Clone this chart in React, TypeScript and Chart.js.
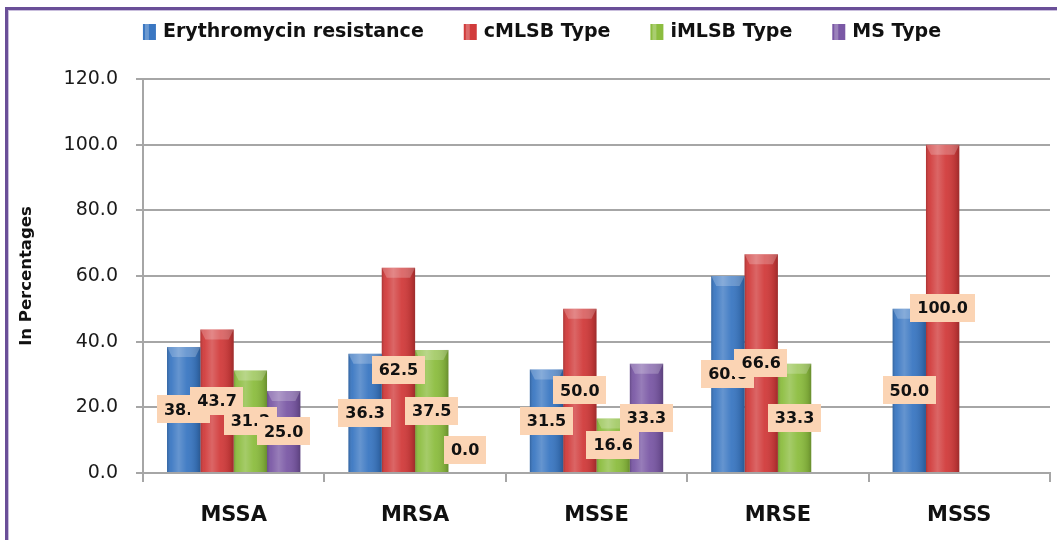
import React, { useEffect, useRef } from "react";
import { Chart, registerables } from "chart.js";

Chart.register(...registerables);

const categories = ["MSSA", "MRSA", "MSSE", "MRSE", "MSSS"];
const seriesNames = ["Erythromycin resistance", "cMLSB Type", "iMLSB Type", "MS Type"];
const erythromycin = [38.4, 36.3, 31.5, 60.0, 50.0];
const cMLSB = [43.7, 62.5, 50.0, 66.6, 100.0];
const iMLSB = [31.2, 37.5, 16.6, 33.3, null];
const msType = [25.0, 0.0, 33.3, null, null];
const seriesColors = ["#3A77C2", "#D13B3B", "#8CBD3F", "#7A58A5"];
const yMin = 0;
const yMax = 120;
const yStep = 20;
const yTitle = "In Percentages";

const FONT = '"DejaVu Sans"';

const borderPlugin = {
  id: "outerBorder",
  beforeDraw(chart: any) {
    const ctx = chart.ctx;
    ctx.save();
    ctx.fillStyle = "#ffffff";
    ctx.fillRect(0, 0, chart.width, chart.height);
    ctx.fillStyle = "#6A4F98";
    ctx.fillRect(5, 7, chart.width - 5, 3);
    ctx.fillRect(5, 7, 3, chart.height - 7);
    ctx.fillStyle = "#C9BEDD";
    ctx.fillRect(8, 10, chart.width - 8, 1);
    ctx.fillRect(8, 10, 1, chart.height - 10);
    ctx.restore();
  },
};

const glossPlugin = {
  id: "barGloss",
  afterDatasetsDraw(chart: any) {
    const ctx = chart.ctx;
    ctx.save();
    chart.data.datasets.forEach((ds: any, di: number) => {
      const meta = chart.getDatasetMeta(di);
      meta.data.forEach((el: any, i: number) => {
        const v = ds.data[i];
        if (v === null || v === undefined) return;
        const { x, y, base, width } = el.getProps(["x", "y", "base", "width"], true);
        const h = base - y;
        if (h < 1) return;
        const left = x - width / 2;
        const g = ctx.createLinearGradient(left, 0, left + width, 0);
        g.addColorStop(0, "rgba(0,0,0,0.18)");
        g.addColorStop(0.12, "rgba(255,255,255,0.05)");
        g.addColorStop(0.35, "rgba(255,255,255,0.22)");
        g.addColorStop(0.6, "rgba(255,255,255,0.05)");
        g.addColorStop(0.9, "rgba(0,0,0,0.12)");
        g.addColorStop(1, "rgba(0,0,0,0.25)");
        ctx.fillStyle = g;
        ctx.fillRect(left, y, width, h);
        const capH = Math.min(10, h);
        ctx.beginPath();
        ctx.moveTo(left, y);
        ctx.lineTo(left + width, y);
        ctx.lineTo(left + width - 5, y + capH);
        ctx.lineTo(left + 5, y + capH);
        ctx.closePath();
        ctx.fillStyle = "rgba(255,255,255,0.22)";
        ctx.fill();
      });
    });
    ctx.restore();
  },
};

const labelPlugin = {
  id: "valueBoxes",
  afterDraw(chart: any) {
    const ctx = chart.ctx;
    ctx.save();
    ctx.font = `bold 16px ${FONT}`;
    ctx.textAlign = "center";
    ctx.textBaseline = "middle";
    const boxH = 28;
    chart.data.datasets.forEach((ds: any, di: number) => {
      const meta = chart.getDatasetMeta(di);
      meta.data.forEach((el: any, i: number) => {
        const v = ds.data[i];
        if (v === null || v === undefined) return;
        const { x, y, base } = el.getProps(["x", "y", "base"], true);
        const text = Number(v).toFixed(1);
        const w = ctx.measureText(text).width + 14;
        let cy = (y + base) / 2;
        cy = Math.min(cy, base - 9 - boxH / 2);
        ctx.fillStyle = "#FBD4B4";
        ctx.fillRect(Math.round(x - w / 2), Math.round(cy - boxH / 2), Math.round(w), boxH);
        ctx.fillStyle = "#111111";
        ctx.fillText(text, x, cy + 1);
      });
    });
    ctx.restore();
  },
};

const legendPlugin = {
  id: "customLegend",
  afterDraw(chart: any) {
    const ctx = chart.ctx;
    ctx.save();
    ctx.font = `bold 19px ${FONT}`;
    ctx.textBaseline = "middle";
    ctx.textAlign = "left";
    const boxW = 13;
    const boxH = 16;
    const gapText = 7;
    const gapItem = 40;
    const items = chart.data.datasets.map((ds: any) => ({
      text: ds.label,
      color: ds.backgroundColor,
      w: ctx.measureText(ds.label).width,
    }));
    const total =
      items.reduce((s: number, it: any) => s + boxW + gapText + it.w, 0) + gapItem * (items.length - 1);
    let x = 542 - total / 2;
    const cy = 32;
    items.forEach((it: any) => {
      const g = ctx.createLinearGradient(x, 0, x + boxW, 0);
      g.addColorStop(0, it.color);
      g.addColorStop(0.4, it.color);
      g.addColorStop(1, it.color);
      ctx.fillStyle = g;
      ctx.fillRect(x, cy - boxH / 2, boxW, boxH);
      ctx.fillStyle = "rgba(255,255,255,0.25)";
      ctx.fillRect(x + 2, cy - boxH / 2, 4, boxH);
      ctx.fillStyle = "#111111";
      ctx.fillText(it.text, x + boxW + gapText, cy);
      x += boxW + gapText + it.w + gapItem;
    });
    ctx.restore();
  },
};

export default function App() {
  const ref = useRef<HTMLCanvasElement | null>(null);
  useEffect(() => {
    if (!ref.current) return;
    const seriesData = [erythromycin, cMLSB, iMLSB, msType];
    const chart = new Chart(ref.current, {
      type: "bar",
      data: {
        labels: categories,
        datasets: seriesNames.map((name, i) => ({
          label: name,
          data: seriesData[i],
          backgroundColor: seriesColors[i],
          borderWidth: 0,
          categoryPercentage: 0.735,
          barPercentage: 1.0,
        })),
      },
      options: {
        responsive: false,
        animation: false,
        devicePixelRatio: 1,
        layout: { padding: { top: 79, right: 7, bottom: 0, left: 0 } },
        plugins: {
          legend: { display: false },
          tooltip: { enabled: false },
          title: { display: false },
        },
        scales: {
          x: {
            afterFit(scale: any) {
              scale.height = 67;
            },
            grid: {
              display: true,
              drawOnChartArea: false,
              drawTicks: true,
              tickLength: 9,
              color: "#A6A6A6",
              lineWidth: 2,
              offset: true,
            },
            border: { display: true, color: "#A6A6A6", width: 2 },
            ticks: {
              font: { family: FONT, size: 21, weight: "bold" },
              color: "#111111",
              padding: 21,
            },
          },
          y: {
            min: yMin,
            max: yMax,
            afterFit(scale: any) {
              scale.width = 143;
            },
            ticks: {
              stepSize: yStep,
              font: { family: FONT, size: 19 },
              color: "#1a1a1a",
              padding: 18,
              callback: (v: any) => Number(v).toFixed(1),
            },
            grid: { color: "#A6A6A6", lineWidth: 2, tickLength: 7 },
            border: { display: true, color: "#A6A6A6", width: 2 },
            title: {
              display: true,
              text: yTitle,
              font: { family: FONT, size: 16.5, weight: "bold" },
              color: "#111111",
              padding: { top: 17, bottom: 0 },
            },
          },
        },
      },
      plugins: [borderPlugin, glossPlugin, labelPlugin, legendPlugin],
    });
    return () => chart.destroy();
  }, []);
  return (
    <div style={{ position: "absolute", left: 0, top: 0, width: 1057, height: 540 }}>
      <canvas ref={ref} width={1057} height={540} style={{ display: "block" }} />
    </div>
  );
}
